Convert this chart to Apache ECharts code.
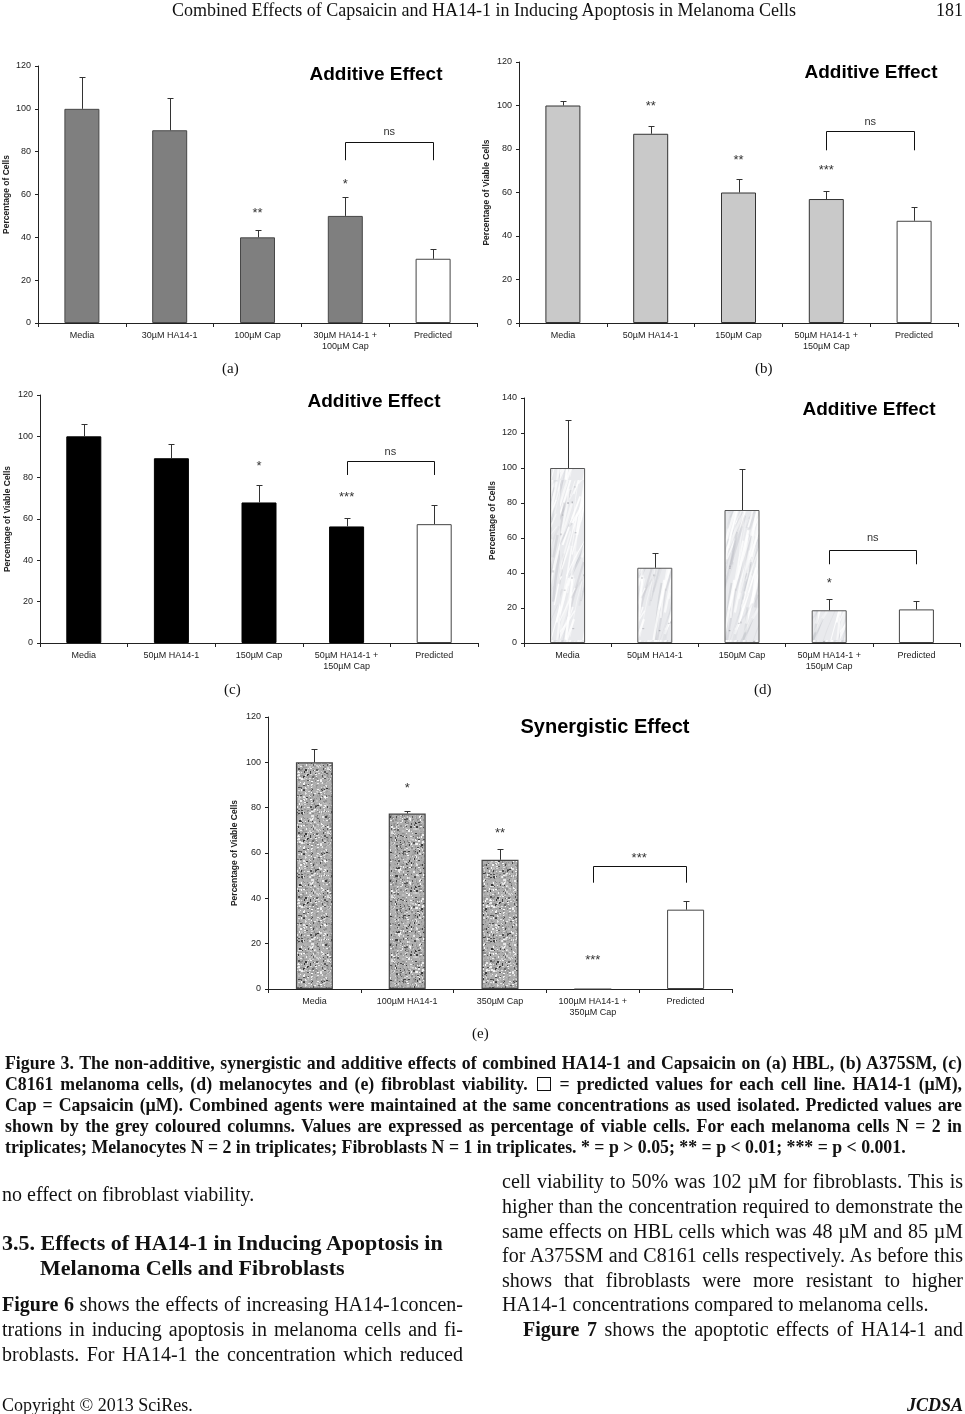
<!DOCTYPE html>
<html><head><meta charset="utf-8">
<script src="https://cdn.jsdelivr.net/npm/echarts@6/dist/echarts.min.js"></script>
<style>
html,body{margin:0;padding:0;background:#fff;}
#page{position:relative;width:965px;height:1414px;overflow:hidden;background:#fff;}
#chart{position:absolute;left:0;top:0;width:965px;height:1414px;}
.tx{position:absolute;font-family:"Liberation Serif","Times New Roman",serif;color:#111;white-space:nowrap;}
.cap{font-weight:bold;font-size:17.8px;line-height:21px;height:21px;}
.body{font-size:20px;line-height:24px;height:24px;}
.hd{font-weight:bold;font-size:22px;line-height:25px;height:25px;}
.box{display:inline-block;width:12px;height:12px;border:1.3px solid #111;vertical-align:-1px;margin:0 2px;}
</style></head>
<body>
<div id="page">
<div id="chart"></div>

<div class="tx" style="left:172px;top:0px;font-size:18px;line-height:20px;">Combined Effects of Capsaicin and HA14-1 in Inducing Apoptosis in Melanoma Cells</div>
<div class="tx" style="right:2px;top:0px;font-size:18px;line-height:20px;">181</div>

<div class="tx" style="left:222px;top:359px;font-size:15px;line-height:18px;">(a)</div>
<div class="tx" style="left:755px;top:359px;font-size:15px;line-height:18px;">(b)</div>
<div class="tx" style="left:224px;top:680px;font-size:15px;line-height:18px;">(c)</div>
<div class="tx" style="left:754px;top:680px;font-size:15px;line-height:18px;">(d)</div>
<div class="tx" style="left:472px;top:1024px;font-size:15px;line-height:18px;">(e)</div>

<div class="tx cap j" data-w="957" style="left:5px;top:1053px;"><span class="c">Figure 3. The non-additive, synergistic and additive effects of combined HA14-1 and Capsaicin on (a) HBL, (b) A375SM, (c)</span></div>
<div class="tx cap j" data-w="957" style="left:5px;top:1074px;"><span class="c">C8161 melanoma cells, (d) melanocytes and (e) fibroblast viability. <span class="box"></span> = predicted values for each cell line. HA14-1 (µM),</span></div>
<div class="tx cap j" data-w="957" style="left:5px;top:1095px;"><span class="c">Cap = Capsaicin (µM). Combined agents were maintained at the same concentrations as used isolated. Predicted values are</span></div>
<div class="tx cap j" data-w="957" style="left:5px;top:1116px;"><span class="c">shown by the grey coloured columns. Values are expressed as percentage of viable cells. For each melanoma cells N = 2 in</span></div>
<div class="tx cap" style="left:5px;top:1137px;"><span class="c">triplicates; Melanocytes N = 2 in triplicates; Fibroblasts N = 1 in triplicates. * = p &gt; 0.05; ** = p &lt; 0.01; *** = p &lt; 0.001.</span></div>

<div class="tx body" style="left:2px;top:1182px;">no effect on fibroblast viability.</div>
<div class="tx hd" style="left:2px;top:1230px;">3.5. Effects of HA14-1 in Inducing Apoptosis in</div>
<div class="tx hd" style="left:40px;top:1255px;">Melanoma Cells and Fibroblasts</div>
<div class="tx body j" data-w="461" style="left:2px;top:1292px;"><span class="c"><b>Figure 6</b> shows the effects of increasing HA14-1concen-</span></div>
<div class="tx body j" data-w="461" style="left:2px;top:1317px;"><span class="c">trations in inducing apoptosis in melanoma cells and fi-</span></div>
<div class="tx body j" data-w="461" style="left:2px;top:1342px;"><span class="c">broblasts. For HA14-1 the concentration which reduced</span></div>

<div class="tx body j" data-w="461" style="left:502px;top:1169px;"><span class="c">cell viability to 50% was 102 µM for fibroblasts. This is</span></div>
<div class="tx body j" data-w="461" style="left:502px;top:1194px;"><span class="c">higher than the concentration required to demonstrate the</span></div>
<div class="tx body j" data-w="461" style="left:502px;top:1218.5px;"><span class="c">same effects on HBL cells which was 48 µM and 85 µM</span></div>
<div class="tx body j" data-w="461" style="left:502px;top:1243px;"><span class="c">for A375SM and C8161 cells respectively. As before this</span></div>
<div class="tx body j" data-w="461" style="left:502px;top:1267.5px;"><span class="c">shows that fibroblasts were more resistant to higher</span></div>
<div class="tx body" style="left:502px;top:1292px;">HA14-1 concentrations compared to melanoma cells.</div>
<div class="tx body j" data-w="440" style="left:523px;top:1317px;"><span class="c"><b>Figure 7</b> shows the apoptotic effects of HA14-1 and</span></div>

<div class="tx" style="left:2px;top:1394px;font-size:18px;line-height:22px;">Copyright © 2013 SciRes.</div>
<div class="tx" style="right:2px;top:1394px;font-size:18px;line-height:22px;font-weight:bold;font-style:italic;">JCDSA</div>
</div>

<script>
// ---------------- DATA ----------------
const catsA = ['Media', '30µM HA14-1', '100µM Cap', '30µM HA14-1 +\n100µM Cap', 'Predicted'];
const valsA = [100, 90, 40, 50, 30];
const errsA = [15, 15, 3.5, 8.7, 4.5];
const starsA = [[2, 52.7, '**'], [3, 66, '*']];
const bracketA = [3, 4, 84.3, 76, 'ns', 88.6];

const catsB = ['Media', '50µM HA14-1', '150µM Cap', '50µM HA14-1 +\n150µM Cap', 'Predicted'];
const valsB = [100, 87, 60, 57, 47];
const errsB = [2, 3.4, 6.4, 3.7, 6.5];
const starsB = [[1, 101, '**'], [2, 76, '**'], [3, 71.4, '***']];
const bracketB = [3, 4, 88.1, 79.4, 'ns', 92];

const catsC = ['Media', '50µM HA14-1', '150µM Cap', '50µM HA14-1 +\n150µM Cap', 'Predicted'];
const valsC = [100, 89.4, 68, 56.4, 57.5];
const errsC = [5.8, 6.8, 8.6, 4.3, 9.3];
const starsC = [[2, 87, '*'], [3, 71.7, '***']];
const bracketC = [3, 4, 88.3, 81.3, 'ns', 91.8];

const catsD = ['Media', '50µM HA14-1', '150µM Cap', '50µM HA14-1 +\n150µM Cap', 'Predicted'];
const valsD = [100, 43, 76, 18.7, 19.2];
const errsD = [27.3, 8.4, 23.3, 6.3, 4.9];
const starsD = [[3, 35.5, '*']];
const bracketD = [3, 4, 53, 45, 'ns', 59.5];

const catsE = ['Media', '100µM HA14-1', '350µM Cap', '100µM HA14-1 +\n350µM Cap', 'Predicted'];
const valsE = [100, 77.4, 57, 0, 35];
const errsE = [5.8, 1, 4.6, 0, 4];
const starsE = [[1, 89.6, '*'], [2, 69.9, '**'], [3, 13.9, '***']];
const bracketE = [3, 4, 54.2, 46.9, '***', 58.8];

const yMaxes = [120, 120, 120, 140, 120];
const yTickInterval = 20;
const yNames = ['Percentage of Cells', 'Percentage of Viable Cells', 'Percentage of Viable Cells', 'Percentage of Cells', 'Percentage of Viable Cells'];
const panelTitles = ['Additive Effect', 'Additive Effect', 'Additive Effect', 'Additive Effect', 'Synergistic Effect'];

// ---------------- LAYOUT / STYLE ----------------
const FONT = '"Liberation Sans", Arial, Helvetica, sans-serif';
const grids = [
  {left: 38, top: 66, width: 439, height: 257},
  {left: 519, top: 62, width: 439, height: 261},
  {left: 40, top: 395, width: 438, height: 248},
  {left: 524, top: 398, width: 436, height: 245},
  {left: 268, top: 717, width: 464, height: 272}
];
const titlePos = [[376, 75], [871, 73], [374, 402], [869, 410], [605, 727]];
const titleSize = [19, 19, 19, 19, 20];
const barWidths = [35, 35, 35, 35, 37];
const nameGaps = [27, 28, 28, 27, 29];

// deterministic texture generator (visual style only)
function prng(seed) {
  return function () {
    seed |= 0; seed = seed + 0x6D2B79F5 | 0;
    let t = Math.imul(seed ^ seed >>> 15, 1 | seed);
    t = t + Math.imul(t ^ t >>> 7, 61 | t) ^ t;
    return ((t ^ t >>> 14) >>> 0) / 4294967296;
  };
}
function marbleTexture() {
  const c = document.createElement('canvas'); c.width = 70; c.height = 160;
  const g = c.getContext('2d'); const r = prng(7);
  g.fillStyle = '#e9eaed'; g.fillRect(0, 0, 70, 160);
  for (let k = 0; k < 160; k++) {
    const x = r() * 90 - 20, y = r() * 180;
    const len = 20 + r() * 60, dx = 6 + r() * 14;
    const light = r() < 0.55;
    g.strokeStyle = light ? 'rgba(255,255,255,' + (0.4 + r() * 0.5) + ')' : 'rgba(160,162,172,' + (0.08 + r() * 0.18) + ')';
    g.lineWidth = 0.6 + r() * 2.2;
    g.beginPath(); g.moveTo(x, y);
    g.quadraticCurveTo(x + dx * 0.5 + (r() - 0.5) * 6, y - len * 0.5, x + dx, y - len);
    g.stroke();
  }
  for (let k = 0; k < 18; k++) {
    g.fillStyle = 'rgba(110,112,120,' + (0.15 + r() * 0.3) + ')';
    g.fillRect(r() * 70, r() * 160, 1 + r() * 1.2, 1 + r() * 1.2);
  }
  return c;
}
function graniteTexture() {
  const c = document.createElement('canvas'); c.width = 64; c.height = 64;
  const g = c.getContext('2d'); const r = prng(11);
  g.fillStyle = '#adadad'; g.fillRect(0, 0, 64, 64);
  for (let y = 0; y < 64; y += 2) {
    for (let x = 0; x < 64; x += 2) {
      const p = r(); let v;
      if (p < 0.16) v = 50 + r() * 60; else if (p < 0.42) v = 205 + r() * 45; else v = 135 + r() * 60;
      v = Math.round(v);
      g.fillStyle = 'rgb(' + v + ',' + v + ',' + v + ')';
      g.fillRect(x + (r() < 0.5 ? 0 : 1), y + (r() < 0.5 ? 0 : 1), 1 + Math.round(r()), 1 + Math.round(r()));
    }
  }
  return c;
}

const barStyles = [
  {color: '#7f7f7f', borderColor: '#474747', borderWidth: 1},
  {color: '#c9c9c9', borderColor: '#333333', borderWidth: 1},
  {color: '#000000', borderColor: '#000000', borderWidth: 1},
  {color: {image: marbleTexture(), repeat: 'repeat'}, borderColor: '#555555', borderWidth: 1},
  {color: {image: graniteTexture(), repeat: 'repeat'}, borderColor: '#444444', borderWidth: 1.2}
];
const predictedStyle = {color: '#ffffff', borderColor: '#444444', borderWidth: 1};

const panels = [
  {cats: catsA, vals: valsA, errs: errsA, stars: starsA, bracket: bracketA},
  {cats: catsB, vals: valsB, errs: errsB, stars: starsB, bracket: bracketB},
  {cats: catsC, vals: valsC, errs: errsC, stars: starsC, bracket: bracketC},
  {cats: catsD, vals: valsD, errs: errsD, stars: starsD, bracket: bracketD},
  {cats: catsE, vals: valsE, errs: errsE, stars: starsE, bracket: bracketE}
];

const AX = '#222';
const xAxes = [], yAxes = [], series = [], graphics = [];

panels.forEach((p, i) => {
  xAxes.push({
    type: 'category', gridIndex: i, data: p.cats,
    axisLine: {lineStyle: {color: AX, width: 1}},
    axisTick: {show: true, length: 4, lineStyle: {color: AX}},
    axisLabel: {interval: 0, fontSize: 9, color: '#222', fontFamily: FONT, margin: 7, lineHeight: 11}
  });
  yAxes.push({
    type: 'value', gridIndex: i, min: 0, max: yMaxes[i], interval: yTickInterval,
    splitLine: {show: false},
    axisLine: {show: true, lineStyle: {color: AX, width: 1}},
    axisTick: {show: true, length: 3, lineStyle: {color: AX}},
    axisLabel: {fontSize: 9, color: '#222', fontFamily: FONT, margin: 7},
    name: yNames[i], nameLocation: 'middle', nameGap: nameGaps[i],
    nameTextStyle: {fontSize: 8.5, fontWeight: 'bold', color: '#222', fontFamily: FONT}
  });
  const last = p.vals.length - 1;
  series.push({
    type: 'bar', xAxisIndex: i, yAxisIndex: i, barWidth: barWidths[i], z: 2,
    data: p.vals.map((v, k) => ({value: v, itemStyle: k === last ? predictedStyle : barStyles[i]})),
    emphasis: {disabled: true}
  });
  // error bars (upper half)
  series.push({
    type: 'custom', xAxisIndex: i, yAxisIndex: i, z: 3, silent: true,
    data: p.vals.map((v, k) => [k, v, v + p.errs[k]]),
    renderItem: function (params, api) {
      if (api.value(2) <= api.value(1)) return null;
      const b = api.coord([api.value(0), api.value(1)]);
      const t = api.coord([api.value(0), api.value(2)]);
      const x = Math.round(b[0]) + 0.5, yt = Math.round(t[1]) + 0.5;
      return {type: 'group', children: [
        {type: 'line', shape: {x1: x, y1: b[1], x2: x, y2: yt}, style: {stroke: '#333', lineWidth: 1}},
        {type: 'line', shape: {x1: x - 3, y1: yt, x2: x + 3, y2: yt}, style: {stroke: '#333', lineWidth: 1}}
      ]};
    }
  });
  // significance stars
  series.push({
    type: 'custom', xAxisIndex: i, yAxisIndex: i, z: 4, silent: true,
    data: p.stars.map(s => [s[0], s[1]]),
    renderItem: function (params, api) {
      const pt = api.coord([api.value(0), api.value(1)]);
      const txt = p.stars[params.dataIndex][2];
      return {type: 'text', x: pt[0], y: pt[1] + 3, style: {
        text: txt, fontSize: 13, fontFamily: FONT, fill: '#333',
        align: 'center', verticalAlign: 'middle', textAlign: 'center', textVerticalAlign: 'middle'}};
    }
  });
  // bracket
  const br = p.bracket;
  series.push({
    type: 'custom', xAxisIndex: i, yAxisIndex: i, z: 4, silent: true,
    data: [[br[0], br[2]]],
    renderItem: function (params, api) {
      const a1 = api.coord([br[0], br[3]]), a2 = api.coord([br[0], br[2]]);
      const b1 = api.coord([br[1], br[2]]), b2 = api.coord([br[1], br[3]]);
      const lt = api.coord([br[0], br[5]]), rt = api.coord([br[1], br[5]]);
      const isStar = br[4].indexOf('*') >= 0;
      const r5 = v => Math.round(v) + 0.5;
      return {type: 'group', children: [
        {type: 'polyline', shape: {points: [[r5(a1[0]), a1[1]], [r5(a2[0]), r5(a2[1])], [r5(b1[0]), r5(b1[1])], [r5(b2[0]), b2[1]]]},
          style: {stroke: '#111', lineWidth: 1, fill: null}},
        {type: 'text', x: (lt[0] + rt[0]) / 2, y: lt[1] + (isStar ? 3 : -1), style: {
          text: br[4], fontSize: isStar ? 13 : 11, fontFamily: FONT, fill: '#333',
          align: 'center', verticalAlign: 'middle', textAlign: 'center', textVerticalAlign: 'middle'}}
      ]};
    }
  });
  graphics.push({
    type: 'text', x: titlePos[i][0], y: titlePos[i][1], silent: true,
    style: {text: panelTitles[i], fontSize: titleSize[i], fontWeight: 'bold', fontFamily: FONT, fill: '#000',
      align: 'center', verticalAlign: 'middle', textAlign: 'center', textVerticalAlign: 'middle'}
  });
});

const chart = echarts.init(document.getElementById('chart'), null, {renderer: 'canvas'});
chart.setOption({
  animation: false,
  backgroundColor: 'transparent',
  grid: grids.map(g => Object.assign({containLabel: false}, g)),
  xAxis: xAxes,
  yAxis: yAxes,
  series: series,
  graphic: graphics
});

// justify prose lines to the column widths
document.querySelectorAll('.j').forEach(el => {
  const sp = el.querySelector('span.c');
  const w = sp.getBoundingClientRect().width;
  const n = (sp.textContent.match(/ /g) || []).length;
  const tw = parseFloat(el.dataset.w);
  if (n > 0) sp.style.wordSpacing = ((tw - w) / n) + 'px';
});
</script>
</body></html>
